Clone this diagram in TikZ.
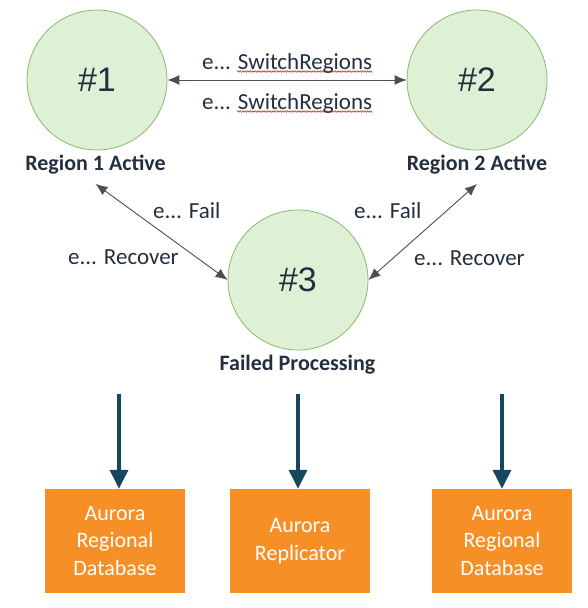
\documentclass[tikz,border=0pt]{standalone}
\usepackage{fontspec}
\setmainfont{Carlito}
\newfontfamily\numfont{Liberation Sans}
\usetikzlibrary{shapes,decorations.pathmorphing,arrows.meta,calc,positioning}
\definecolor{stfill}{HTML}{DEF0D5}
\definecolor{stline}{HTML}{86BA6A}
\definecolor{ink}{HTML}{232F3E}
\definecolor{wire}{HTML}{4A4F57}
\definecolor{dbteal}{HTML}{17475E}
\definecolor{aurora}{HTML}{F78F27}
\tikzset{
    state/.style ={circle, draw=stline, fill=stfill, line width=0.8pt, minimum size=140pt,
        inner sep=0pt, text=ink, font=\numfont\fontsize{34}{40}\selectfont},
    tag/.style = {anchor=base, inner sep=0pt, text=ink, font=\bfseries\fontsize{22}{26}\selectfont},
    ev/.style = {anchor=base west, inner sep=0pt, text=ink, font=\fontsize{23}{27}\selectfont},
    trans/.style = {{Latex[length=12pt,width=10pt]}-{Latex[length=12pt,width=10pt]}, wire, line width=0.9pt},
    db/.style = {rectangle, fill=aurora, minimum width=140pt, minimum height=104pt, inner sep=0pt,
        text=white, align=center, font=\fontsize{22}{27.5}\selectfont},
    feed/.style = {-{Triangle[length=19pt,width=18pt]}, dbteal, line width=3.5pt},
    squig/.style = {red!85!black, line width=0.5pt, decorate, decoration={snake, amplitude=0.7pt, segment length=2.5pt}}
}

\begin{document}
\begin{tikzpicture}[x=1pt, y=-1pt]
    \useasboundingbox (0,0) rectangle (587,608);

    \node[state] (r1) at (97,80) {\#1};
    \node[state] (r2) at (477,80) {\#2};
    \node[state] (f) at (298,280) {\#3};

    \node[tag] (l1) at (95.5,170) {Region 1 Active};
    \node[tag] (l2) at (477,170) {Region 2 Active};
    \node[tag] (l3) at (297.5,370) {Failed Processing};

    \node[ev] (sw1) at (202,69) {e... SwitchRegions};
    \node[ev] (sw2) at (202,109) {e... SwitchRegions};
    \node[ev] (fl1) at (153,218) {e... Fail};
    \node[ev] (rc1) at (68,264) {e... Recover};
    \node[ev] (fl2) at (354,218) {e... Fail};
    \node[ev] (rc2) at (414,265) {e... Recover};

    \draw[squig] ([xshift=35pt,yshift=-2.5pt]sw1.base west) -- ([yshift=-2.5pt]sw1.base east);
    \draw[squig] ([xshift=35pt,yshift=-2.5pt]sw2.base west) -- ([yshift=-2.5pt]sw2.base east);

    \path[trans] (r1) edge (r2);
    \path[trans] ([yshift=-10pt]l1.south) edge (f.west);
    \path[trans] ([yshift=-10pt]l2.south) edge (f.east);

    \node[db] (b1) at (115,541) {Aurora\\Regional\\Database};
    \node[db] (b2) at (300,541) {Aurora\\Replicator};
    \node[db] (b3) at (502,541) {Aurora\\Regional\\Database};

    \coordinate (t1) at (119,394);
    \coordinate (t2) at (298,394);
    \coordinate (t3) at (502,394);
    \draw[feed] (t1) -- (t1 |- b1.north);
    \draw[feed] (t2) -- (t2 |- b2.north);
    \draw[feed] (t3) -- (t3 |- b3.north);

\end{tikzpicture}
\end{document}
